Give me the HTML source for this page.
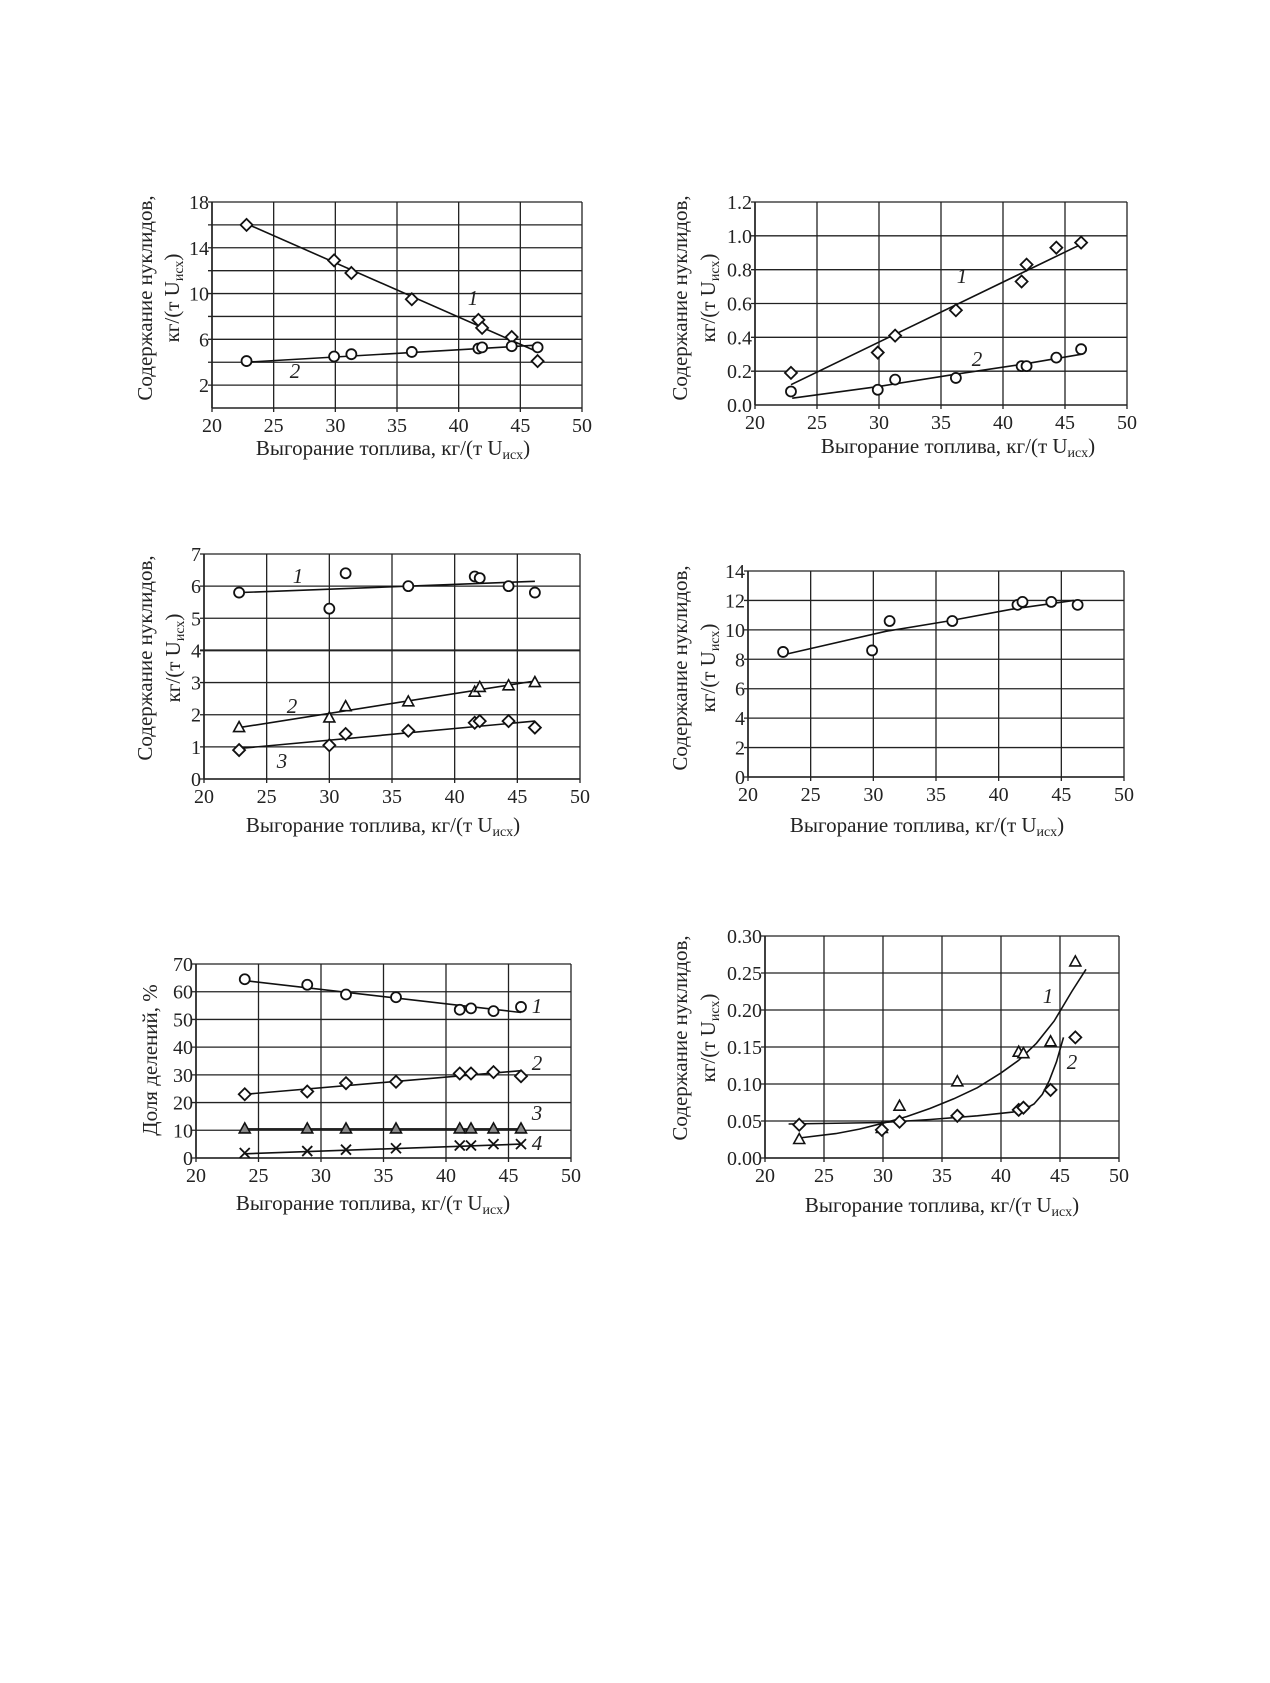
<!DOCTYPE html>
<html><head><meta charset="utf-8">
<style>
html,body{margin:0;padding:0;background:#fff;}
svg{display:block;}
text{font-family:"Liberation Serif",serif;fill:#222;}
</style></head>
<body>
<svg id="s" width="1270" height="1683" viewBox="0 0 1270 1683" xmlns="http://www.w3.org/2000/svg"></svg>
<script>
const S=document.getElementById('s');let h='';
const TF=20, AF=21;
function chart(c){
 const X=v=>c.l+(v-20)/30*(c.r-c.l), Y=v=>c.b-(v-c.y0)/(c.y1-c.y0)*(c.b-c.t);
 for(let v=20;v<=50;v+=5){const x=X(v);h+=`<line x1="${x}" y1="${c.t}" x2="${x}" y2="${c.b+4}" stroke="#222" stroke-width="1.3"/>`;
  h+=`<text x="${x}" y="${c.b+24}" font-size="${TF}" text-anchor="middle">${v}</text>`;}
 for(let i=0;i<c.yt.length;i++){const v=c.yt[i];const y=Y(v);
  h+=`<line x1="${c.l-4}" y1="${y}" x2="${c.r}" y2="${y}" stroke="#222" stroke-width="${c.thick===v?2:1.3}"/>`;
  if(c.lab[i]!==null)h+=`<text x="${c.l-3}" y="${y+7}" font-size="${TF}" text-anchor="end">${c.lab[i]}</text>`;}
 h+=`<line x1="${c.l}" y1="${c.t}" x2="${c.l}" y2="${c.b}" stroke="#222" stroke-width="1.6"/>`;
 h+=`<line x1="${c.l}" y1="${c.b}" x2="${c.r}" y2="${c.b}" stroke="#222" stroke-width="1.6"/>`;
 h+=`<text x="${c.xt[0]}" y="${c.xt[1]}" font-size="${AF}" text-anchor="middle">Выгорание топлива, кг/(т U<tspan font-size="14" dy="4">исх</tspan><tspan dy="-4">)</tspan></text>`;
 if(c.single){h+=`<text transform="translate(${c.yx[0]+7},${c.ymid}) rotate(-90)" font-size="${AF}" text-anchor="middle">Доля делений, %</text>`;}
 else{h+=`<text transform="translate(${c.yx[0]+7},${c.ymid}) rotate(-90)" font-size="${AF}" text-anchor="middle">Содержание нуклидов,</text>`;
 h+=`<text transform="translate(${c.yx[1]+7},${c.ymid}) rotate(-90)" font-size="${AF}" text-anchor="middle">кг/(т U<tspan font-size="14" dy="4">исх</tspan><tspan dy="-4">)</tspan></text>`;}
 for(const s of c.series){
  const pts=s.line.map(p=>X(p[0]).toFixed(1)+','+Y(p[1]).toFixed(1)).join(' ');
  h+=`<polyline points="${pts}" fill="none" stroke="#111" stroke-width="1.6"/>`;
  s.y.forEach((v,i)=>{mark(s.m,X(s.x[i]),Y(v));});
 }
 for(const t of c.tl)h+=`<text x="${t[1]}" y="${t[2]}" font-size="${AF}" font-style="italic" text-anchor="middle">${t[0]}</text>`;
}
function mark(m,x,y){
 if(m==='o')h+=`<circle cx="${x}" cy="${y}" r="5" fill="#fff" stroke="#111" stroke-width="1.8"/>`;
 else if(m==='d')h+=`<polygon points="${x},${y-6} ${x+6},${y} ${x},${y+6} ${x-6},${y}" fill="#fff" stroke="#111" stroke-width="1.8"/>`;
 else if(m==='t')h+=`<polygon points="${x},${y-6} ${x+5.5},${y+4} ${x-5.5},${y+4}" fill="#fff" stroke="#111" stroke-width="1.6"/>`;
 else if(m==='tg')h+=`<polygon points="${x},${y-6} ${x+5.5},${y+4} ${x-5.5},${y+4}" fill="#888" stroke="#111" stroke-width="1.6"/>`;
 else if(m==='x')h+=`<path d="M${x-5},${y-5}L${x+5},${y+5}M${x+5},${y-5}L${x-5},${y+5}" stroke="#111" stroke-width="1.8"/>`;
}
function rng(a,b,s){const r=[];for(let v=a;v<=b+1e-9;v+=s)r.push(+v.toFixed(3));return r;}
const xa=[22.8,29.9,31.3,36.2,41.6,41.9,44.3,46.4];
chart({l:212,r:582,t:202,b:408,y0:0,y1:18,yt:rng(2,18,2),lab:[2,null,6,null,10,null,14,null,18],
 xt:[393,455],yx:[145,172],ymid:298,
 series:[{m:'d',x:xa,y:[16.0,12.9,11.8,9.5,7.7,7.0,6.2,4.1],line:[[22.8,16.1],[46.4,4.9]]},
 {m:'o',x:xa,y:[4.1,4.5,4.7,4.9,5.2,5.3,5.4,5.3],line:[[22.8,4.0],[46.4,5.5]]}],
 tl:[['1',473,305],['2',295,378]]});
chart({l:755,r:1127,t:202,b:405,y0:0,y1:1.2,yt:rng(0.2,1.2,0.2),lab:['0.2','0.4','0.6','0.8','1.0','1.2'],
 xt:[958,453],yx:[680,708],ymid:298,
 series:[{m:'d',x:[22.9,29.9,31.3,36.2,41.5,41.9,44.3,46.3],y:[0.19,0.31,0.41,0.56,0.73,0.83,0.93,0.96],line:[[22.9,0.12],[46.3,0.95]]},
 {m:'o',x:[22.9,29.9,31.3,36.2,41.5,41.9,44.3,46.3],y:[0.08,0.09,0.15,0.16,0.23,0.23,0.28,0.33],line:[[23,0.04],[30,0.11],[36,0.18],[41.5,0.24],[46.3,0.30]]}],
 tl:[['1',962,283],['2',977,366]]});
h+=`<text x="752" y="412" font-size="${TF}" text-anchor="end">0.0</text>`;
const xc=[22.8,30,31.3,36.3,41.6,42,44.3,46.4];
chart({l:204,r:580,t:554,b:779,y0:0,y1:7,yt:rng(0,7,1),lab:[0,1,2,3,4,5,6,7],thick:4,
 xt:[383,832],yx:[145,173],ymid:658,
 series:[{m:'o',x:xc,y:[5.8,5.3,6.4,6.0,6.3,6.25,6.0,5.8],line:[[22.8,5.8],[46.4,6.15]]},
 {m:'t',x:xc,y:[1.6,1.9,2.25,2.4,2.7,2.85,2.9,3.0],line:[[22.8,1.6],[46.4,3.05]]},
 {m:'d',x:xc,y:[0.9,1.05,1.4,1.5,1.75,1.8,1.8,1.6],line:[[22.8,0.95],[46.4,1.8]]}],
 tl:[['1',298,583],['2',292,713],['3',282,768]]});
chart({l:748,r:1124,t:571,b:777,y0:0,y1:14,yt:rng(0,14,2),lab:[0,2,4,6,8,10,12,14],
 xt:[927,832],yx:[680,708],ymid:668,
 series:[{m:'o',x:[22.8,29.9,31.3,36.3,41.5,41.9,44.2,46.3],y:[8.5,8.6,10.6,10.6,11.7,11.9,11.9,11.7],line:[[22.8,8.3],[31,9.9],[36,10.6],[41,11.4],[46,12.0]]}],
 tl:[]});
const xe=[23.9,28.9,32,36,41.1,42,43.8,46];
chart({l:196,r:571,t:964,b:1158,y0:0,y1:70,yt:rng(0,70,10),lab:[0,10,20,30,40,50,60,70],
 xt:[373,1210],yx:[150,0],ymid:1060,single:true,
 series:[{m:'o',x:xe,y:[64.5,62.5,59,58,53.5,54,53,54.5],line:[[23.9,64],[46,52.5]]},
 {m:'d',x:xe,y:[23,24,27,27.5,30.5,30.5,31,29.5],line:[[23.9,23],[46,31.5]]},
 {m:'tg',x:xe,y:[10.5,10.5,10.5,10.5,10.5,10.5,10.5,10.5],line:[[23.9,10.5],[46.3,10.5]]},
 {m:'x',x:xe,y:[1.8,2.5,3,3.5,4.5,4.5,5,5],line:[[23.9,1.5],[46,5]]}],
 tl:[['1',537,1013],['2',537,1070],['3',537,1120],['4',537,1150]]});
chart({l:765,r:1119,t:936,b:1158,y0:0,y1:0.3,yt:rng(0,0.3,0.05),lab:['0.00','0.05','0.10','0.15','0.20','0.25','0.30'],
 xt:[942,1212],yx:[680,708],ymid:1038,
 series:[{m:'t',x:[22.9,29.9,31.4,36.3,41.5,41.9,44.2,46.3],y:[0.025,0.04,0.07,0.103,0.143,0.141,0.157,0.265],
  line:[[22.9,0.027],[26,0.033],[28,0.039],[30,0.047],[32,0.056],[34,0.067],[36,0.08],[38,0.095],[40,0.115],[41.5,0.132],[43,0.155],[44.5,0.185],[46,0.225],[47.2,0.255]]},
 {m:'d',x:[22.9,29.9,31.4,36.3,41.5,41.9,44.2,46.3],y:[0.045,0.038,0.049,0.057,0.065,0.068,0.092,0.163],
  line:[[22,0.046],[30,0.048],[34,0.052],[38,0.057],[41,0.062],[42,0.066],[42.8,0.073],[43.5,0.086],[44.1,0.105],[44.7,0.13],[45.3,0.163]]}],
 tl:[['1',1048,1003],['2',1072,1069]]});
S.innerHTML=h;
</script>
</body></html>
